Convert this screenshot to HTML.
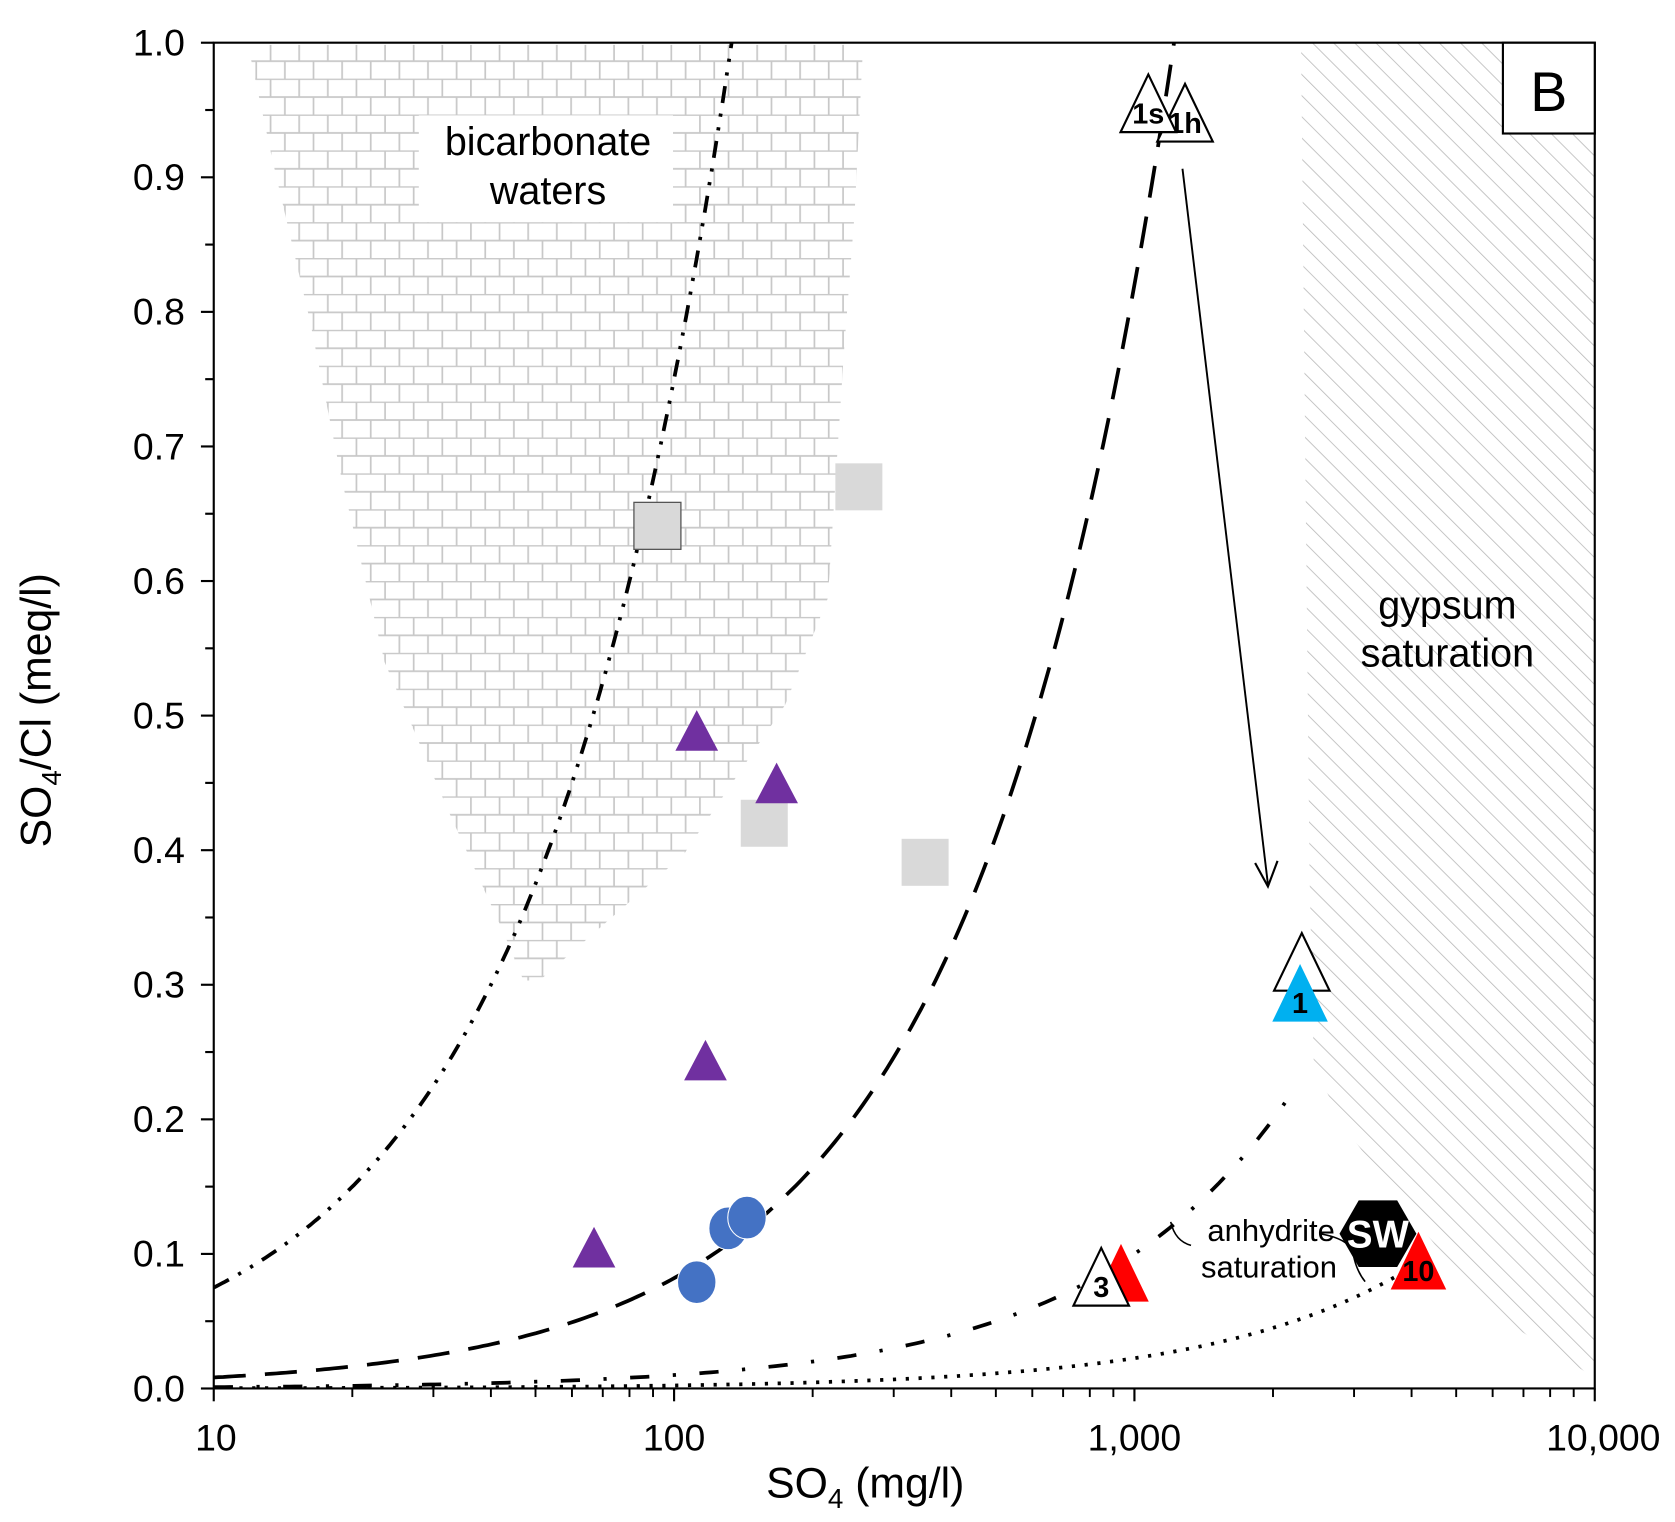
<!DOCTYPE html>
<html><head><meta charset="utf-8"><style>
html,body{margin:0;padding:0;background:#fff}
svg{display:block;font-family:"Liberation Sans",Arial,sans-serif}
</style></head><body>
<svg id="chart" width="1675" height="1522" viewBox="0 0 1568 1425" xmlns="http://www.w3.org/2000/svg">
<defs>
<pattern id="brick" patternUnits="userSpaceOnUse" x="213" y="40" width="53.6" height="33.6">
<rect width="53.6" height="33.6" fill="#fff"/>
<path d="M0 0.5H53.6M0 17.3H53.6M13.4 0V16.8M40.2 0V16.8M0 17V33.6M26.8 17V33.6M53.6 17V33.6" stroke="#c8c8c8" stroke-width="1.6" fill="none"/>
</pattern>
<pattern id="hatch" patternUnits="userSpaceOnUse" width="14" height="14" patternTransform="rotate(-45)">
<line x1="0" y1="0" x2="0" y2="14" stroke="#b8b8b8" stroke-width="1.5"/>
</pattern>
<clipPath id="plotclip"><rect x="200" y="40" width="1293" height="1260"/></clipPath>
</defs>
<g id="regions" clip-path="url(#plotclip)">
<path fill="url(#brick)" d="M232 42 L808 42 L800 200 L790 330 L775 560 L735 660 L640 800 L560 870 L505 918 L490 918 L470 870 L420 760 L360 620 L320 450 L290 300 L255 150 Z"/>
<path fill="#fff" d="M392 108 L630 108 L630 208 L392 208 Z"/>
<path fill="url(#hatch)" d="M1218 40 L1493 40 L1493 1290 L1390 1225 L1300 1110 L1262 1060 L1230 1000 L1226 820 Z"/>
</g>
<g id="axes"></g>
<g id="curves" clip-path="url(#plotclip)"></g>
<g id="marks"></g>
<text x="513" y="145" font-size="37" text-anchor="middle">bicarbonate</text>
<text x="513" y="191" font-size="37" text-anchor="middle">waters</text>
<text x="1355" y="579" font-size="37" text-anchor="middle">gypsum</text>
<text x="1355" y="624" font-size="37" text-anchor="middle">saturation</text>
<text x="1190" y="1162" font-size="29" text-anchor="middle">anhydrite</text>
<text x="1188" y="1196" font-size="29" text-anchor="middle">saturation</text>
<path d="M1235 1155 Q1265 1160 1267 1175 Q1270 1190 1278 1200" stroke="#000" stroke-width="1.5" fill="none"/>
<path d="M1096 1144 Q1100 1162 1115 1166" stroke="#000" stroke-width="1.5" fill="none"/>
<line x1="1107" y1="158" x2="1187" y2="828" stroke="#000" stroke-width="1.8"/>
<path d="M1175 808 L1187 830 L1196 806" stroke="#000" stroke-width="2" fill="none"/>
<rect x="1407" y="40" width="86" height="85" fill="#fff" stroke="#000" stroke-width="2"/>
<text x="1450" y="104" font-size="52" text-anchor="middle">B</text>
<text x="810" y="1402" font-size="40" text-anchor="middle">SO<tspan font-size="26" dy="10">4</tspan><tspan dy="-10"> (mg/l)</tspan></text>
<text transform="translate(47,665) rotate(-90)" font-size="40" text-anchor="middle">SO<tspan font-size="26" dy="10">4</tspan><tspan dy="-10">/Cl (meq/l)</tspan></text>
</svg>
<script>
var xTicks=[10,100,1000,10000];
var xTickLabels=["10","100","1,000","10,000"];
var yTicks=[0,0.1,0.2,0.3,0.4,0.5,0.6,0.7,0.8,0.9,1.0];
var yTickLabels=["0.0","0.1","0.2","0.3","0.4","0.5","0.6","0.7","0.8","0.9","1.0"];
var curveSlopes=[0.0075,0.00082,0.0001,0.0000225];
var curveXmax=[134,1230,2220,4200];
var curveDash=["16 10 3 10 3 10","30 18","18 22 3 22","3 9"];
var curveNames=["mixing-line-dash-dot-dot","mixing-line-dashed","anhydrite-line-dash-dot","seawater-line-dotted"];
var squareX=[92,252,157,351];
var squareY=[0.641,0.670,0.420,0.391];
var purpleX=[112,167,117,67];
var purpleY=[0.489,0.450,0.244,0.105];
var circleX=[112,131,144];
var circleY=[0.079,0.119,0.127];
var labTriX=[1288,1072,2310,2290,935,847,4140];
var labTriY=[0.948,0.955,0.317,0.294,0.086,0.083,0.095];
var labTriText=["1h","1s","","1","","3","10"];
var labTriFill=["#fff","#fff","#fff","#00b0f0","#ff0000","#fff","#ff0000"];
var swX=[3380];var swY=[0.115];

var NS="http://www.w3.org/2000/svg";
function X(v){return 200+(Math.log10(v)-1)*431;}
function Y(v){return 1300-v*1260;}
function mk(tag,attrs,parent){var e=document.createElementNS(NS,tag);for(var k in attrs)e.setAttribute(k,attrs[k]);parent.appendChild(e);return e;}
var axes=document.getElementById('axes');
var frame=mk('path',{d:'M200 40H1493V1300H200Z',fill:'none',stroke:'#000','stroke-width':2},axes);


for(var i=0;i<yTicks.length;i++){
 var t=mk('line',{x1:188,x2:200,y1:Y(yTicks[i]),y2:Y(yTicks[i]),stroke:'#000','stroke-width':2},axes);
 
 
 if(i<yTicks.length-1){var m=mk('line',{x1:192,x2:200,y1:Y(yTicks[i]+0.05),y2:Y(yTicks[i]+0.05),stroke:'#000','stroke-width':2},axes);
 
 }
 var l=mk('text',{x:173,y:Y(yTicks[i])+12,'font-size':35,'text-anchor':'end'},axes);l.textContent=yTickLabels[i];
 
 
}
for(var i=0;i<xTicks.length;i++){
 var t=mk('line',{x1:X(xTicks[i]),x2:X(xTicks[i]),y1:1300,y2:1312,stroke:'#000','stroke-width':2},axes);
 
 
 if(i<xTicks.length-1){for(var j=2;j<10;j++){var m=mk('line',{x1:X(xTicks[i]*j),x2:X(xTicks[i]*j),y1:1300,y2:1308,stroke:'#000','stroke-width':1.8},axes);
 
 }}
 var l=mk('text',{x:X(xTicks[i])+(i==3?8:(i==0?2:0)),y:1358,'font-size':35,'text-anchor':'middle'},axes);l.textContent=xTickLabels[i];
 
 
}
var cg=document.getElementById('curves');
for(var c=0;c<curveSlopes.length;c++){
 var pts=[];var lx0=1,lx1=Math.log10(curveXmax[c]);
 for(var s=0;s<=200;s++){var lx=lx0+(lx1-lx0)*s/200;var v=Math.pow(10,lx);pts.push(X(v).toFixed(1)+','+Y(curveSlopes[c]*v).toFixed(1));}
 var p=mk('polyline',{points:pts.join(' '),fill:'none',stroke:'#000','stroke-width':3.5,'stroke-dasharray':curveDash[c]},cg);
 
 
}
var mg=document.getElementById('marks');
for(var i=0;i<squareX.length;i++){
 var r=mk('rect',{x:X(squareX[i])-22,y:Y(squareY[i])-22,width:44,height:44,fill:'#d9d9d9',stroke:i==0?'#555':'none','stroke-width':1.2},mg);
 
 
}
function tri(cx,cy,w,h){return 'M'+(cx-w/2)+' '+(cy+h/2)+' L'+cx+' '+(cy-h/2)+' L'+(cx+w/2)+' '+(cy+h/2)+'Z';}
for(var i=0;i<purpleX.length;i++){
 var p=mk('path',{d:tri(X(purpleX[i]),Y(purpleY[i]),40,38),fill:'#7030a0'},mg);
 
 
}
for(var i=0;i<circleX.length;i++){
 var ci=mk('ellipse',{cx:X(circleX[i]),cy:Y(circleY[i]),rx:18,ry:20,fill:'#4472c4',stroke:'#fff','stroke-width':1},mg);
 
 
}
for(var i=0;i<labTriX.length;i++){
 var cx=X(labTriX[i]),cy=Y(labTriY[i]);
 var wh=labTriFill[i]=='#fff';
 var p=mk('path',{d:tri(cx,cy,52,54),fill:labTriFill[i],stroke:wh?'#000':'none','stroke-width':2},mg);
 
 
 if(labTriText[i]){var t=mk('text',{x:cx,y:cy+19,'font-size':27,'font-weight':'bold','text-anchor':'middle'},mg);t.textContent=labTriText[i];
 
 }
}
for(var i=0;i<swX.length;i++){
 var cx=X(swX[i]),cy=Y(swY[i]),r=36,pts=[];
 for(var k=0;k<6;k++){var a=Math.PI/6+k*Math.PI/3-Math.PI/2;pts.push((cx+r*Math.cos(a)).toFixed(1)+','+(cy+r*Math.sin(a)).toFixed(1));}
 var h=mk('polygon',{points:pts.join(' '),fill:'#000'},mg);
 
 
 var t=mk('text',{x:cx,y:cy+13,'font-size':36,'font-weight':'bold',fill:'#fff','text-anchor':'middle'},mg);t.textContent='SW';
 
 
}
</script>
</body></html>
